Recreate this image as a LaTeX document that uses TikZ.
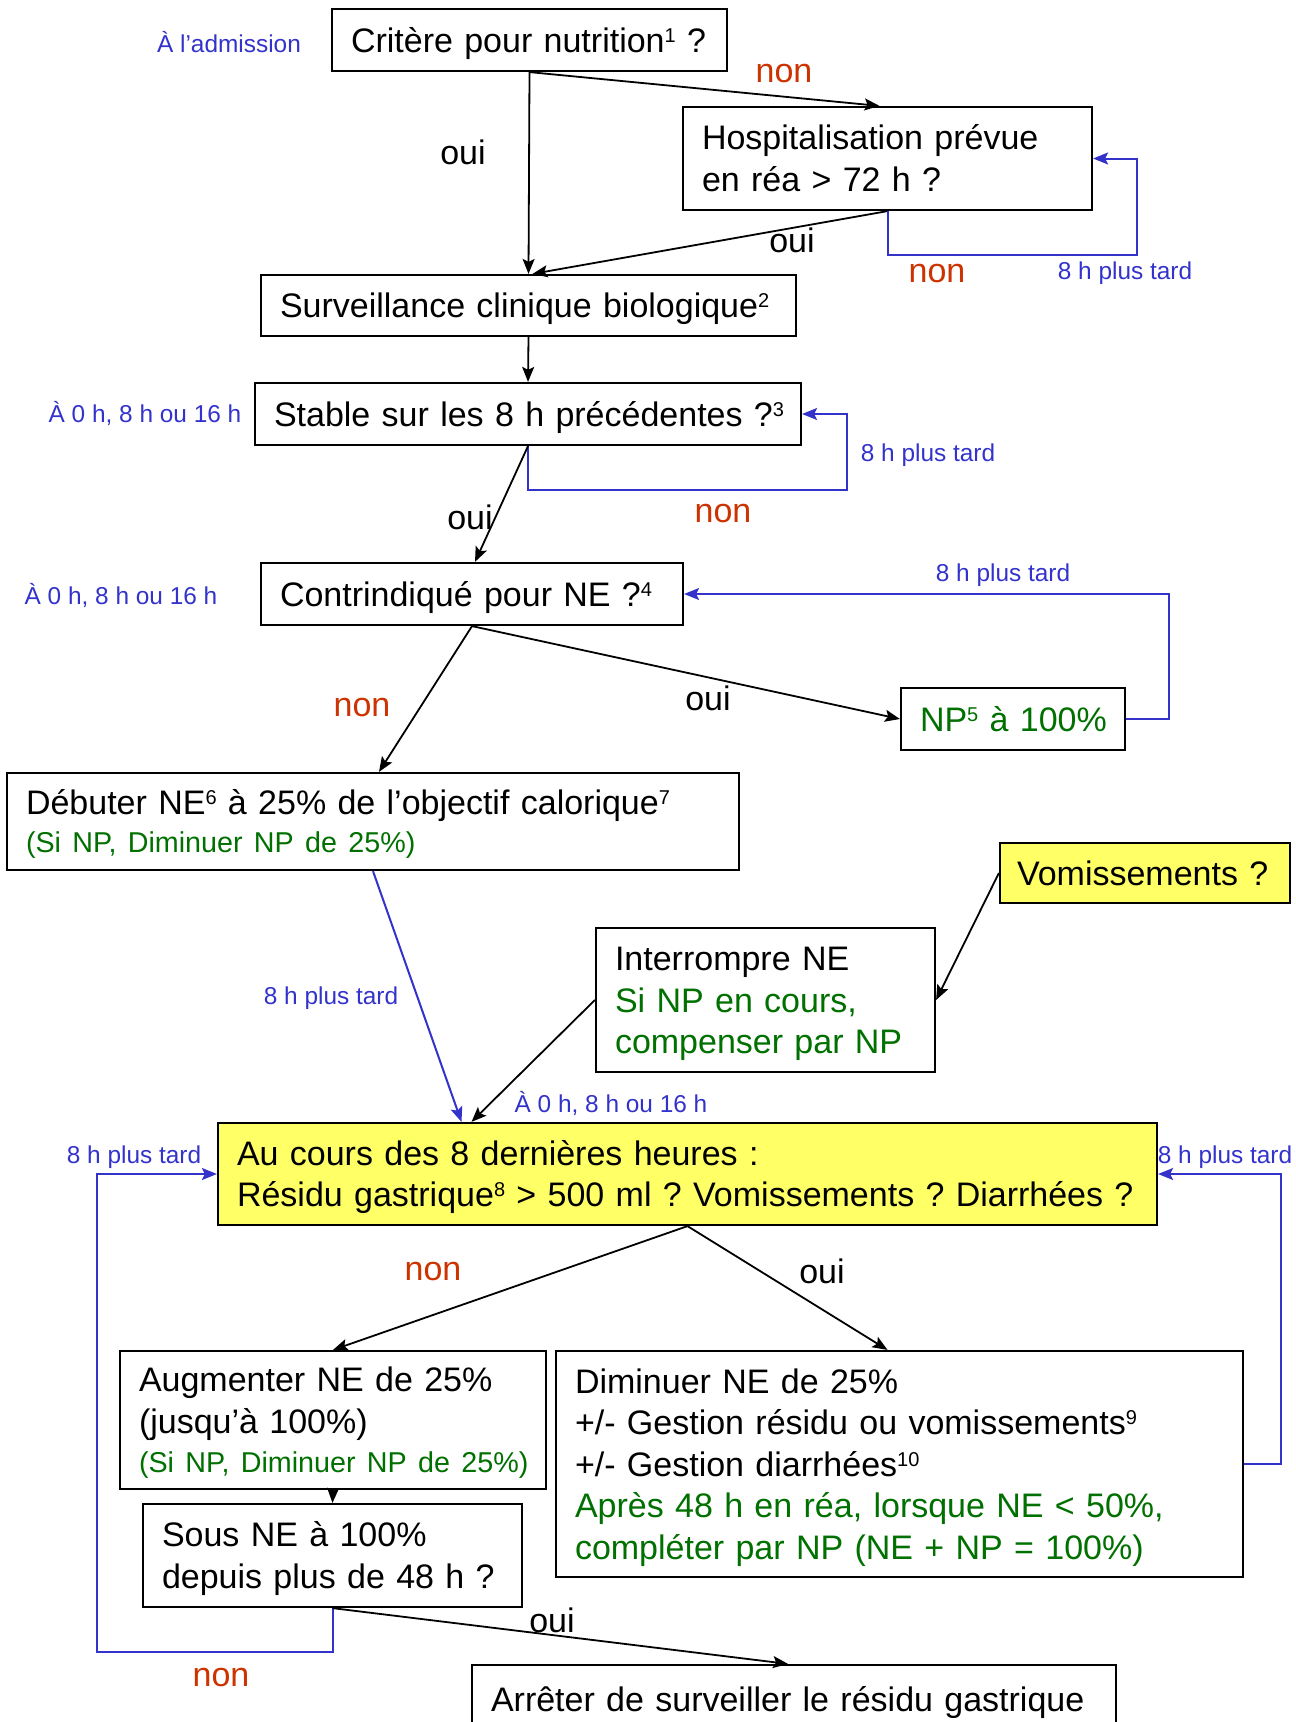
\documentclass[tikz,border=0pt]{standalone}
\usepackage{fontspec}
\setmainfont{Liberation Sans}
\usetikzlibrary{arrows.meta,calc}
\definecolor{cblue}{RGB}{51,51,204}
\definecolor{cred}{RGB}{204,51,0}
\definecolor{cgreen}{RGB}{0,112,0}
\definecolor{cyel}{RGB}{255,255,102}
\newcommand\sus[1]{\raisebox{10pt}{\fontsize{20}{20}\selectfont #1}}
\newcommand\gsmall{\fontsize{28.7}{35}\selectfont}
\newcommand\hs{\rule{0pt}{34pt}}
\newcommand\ds{\rule[-9.6pt]{0pt}{0pt}}
\begin{document}
\frenchspacing
\begin{tikzpicture}[x=1pt,y=-1pt,
  every node/.style={inner sep=0pt},
  bx/.style={draw=black, line width=2.2pt, rectangle, inner xsep=19pt, inner ysep=0pt, align=left, font=\fontsize{34}{41.5}\selectfont, text=black},
  ybx/.style={bx, fill=cyel},
  lbl/.style={font=\fontsize{24.4}{28}\selectfont, text=cblue},
  nonl/.style={font=\fontsize{34}{40}\selectfont, text=cred},
  ouil/.style={font=\fontsize{34}{40}\selectfont, text=black},
  arr/.style={draw=black, line width=1.8pt, -{Stealth[length=15pt,width=12pt,inset=3pt]}},
  barr/.style={draw=cblue, line width=2pt, -{Stealth[length=15pt,width=12pt,inset=3pt]}},
]
\clip (0,0) rectangle (1296,1722);
\fill[white] (0,0) rectangle (1296,1722);

\node[bx, minimum width=395pt, minimum height=62pt, text width=357pt] (crit) at (529.5,40) {\mbox{\hs Critère pour nutrition\sus{1} ?\ds}};
\node[bx, minimum width=409pt, minimum height=103pt, text width=371pt] (hosp) at (887.5,158.5) {\mbox{\hs Hospitalisation prévue}\\\mbox{en réa > 72 h ?\ds}};
\node[bx, minimum width=535pt, minimum height=61pt, text width=497pt] (surv) at (528.5,305.5) {\mbox{\hs Surveillance clinique biologique\sus{2}\ds}};
\node[bx, minimum width=546pt, minimum height=62pt, text width=508pt] (stab) at (528,414) {\mbox{\hs Stable sur les 8 h précédentes ?\sus{3}\ds}};
\node[bx, minimum width=422pt, minimum height=62pt, text width=384pt] (contr) at (472,594) {\mbox{\hs Contrindiqué pour NE ?\sus{4}\ds}};
\node[bx, minimum width=224pt, minimum height=62pt, text width=186pt, text=cgreen] (np) at (1013,719) {\mbox{\hs NP\sus{5} à 100\%\ds}};
\node[bx, minimum width=732pt, minimum height=97pt, text width=694pt] (debut) at (373,821.5) {\mbox{\hs Débuter NE\sus{6} à 25\% de l’objectif calorique\sus{7}}\\[-4pt]\mbox{\gsmall\color{cgreen}(Si NP, Diminuer NP de 25\%)\ds}};
\node[ybx, minimum width=290pt, minimum height=60pt, text width=256pt, inner xsep=17pt] (vom) at (1145,873) {\mbox{\hs Vomissements ?\ds}};
\node[bx, minimum width=339pt, minimum height=144pt, text width=301pt] (interr) at (765.5,1000) {\mbox{\hs Interrompre NE}\\\mbox{\color{cgreen}Si NP en cours,}\\\mbox{\color{cgreen}compenser par NP\ds}};
\node[ybx, minimum width=939pt, minimum height=102pt, text width=901pt] (auc) at (687.5,1174) {\mbox{\hs Au cours des 8 dernières heures :}\\\mbox{Résidu gastrique\sus{8} > 500 ml ? Vomissements ? Diarrhées ?\ds}};
\node[bx, minimum width=426pt, minimum height=138pt, text width=388pt] (augm) at (333,1420) {\mbox{\hs Augmenter NE de 25\%}\\\mbox{(jusqu’à 100\%)}\\[-2pt]\mbox{\gsmall\color{cgreen}(Si NP, Diminuer NP de 25\%)\ds}};
\node[bx, minimum width=687pt, minimum height=226pt, text width=649pt] (dimin) at (899.5,1464) {\mbox{\hs Diminuer NE de 25\%}\\\mbox{+/- Gestion résidu ou vomissements\sus{9}}\\\mbox{+/- Gestion diarrhées\sus{10}}\\\mbox{\color{cgreen}Après 48 h en réa, lorsque NE < 50\%,}\\\mbox{\color{cgreen}compléter par NP (NE + NP = 100\%)\ds}};
\node[bx, minimum width=379pt, minimum height=103pt, text width=341pt] (sous) at (332.5,1555.5) {\mbox{\hs Sous NE à 100\%}\\\mbox{depuis plus de 48 h ?\ds}};
\node[bx, minimum width=644pt, minimum height=68pt, text width=606pt] (arret) at (794,1699) {\mbox{\hs Arrêter de surveiller le résidu gastrique\ds}};

\draw[arr] (crit.south) -- ([xshift=-8pt]hosp.north);
\draw[arr] (crit.south) -- (surv.north);
\draw[arr] (hosp.south) -- ([xshift=4pt]surv.north);
\draw[barr] (hosp.south) -- ++(0,44) -| ([xshift=44pt]hosp.east) -- (hosp.east);
\draw[arr] (surv.south) -- (stab.north);
\draw[barr] (stab.south) -- ++(0,44) -| ([xshift=45pt]stab.east) -- (stab.east);
\draw[arr] (stab.south) -- ([xshift=3pt]contr.north);
\draw[arr] (contr.south) -- ([xshift=6pt]debut.north);
\draw[arr] (contr.south) -- (np.west);
\draw[barr] (np.east) -- ++(43,0) |- (contr.east);
\draw[barr] (debut.south) -- ([xshift=-226pt]auc.north);
\draw[arr] (vom.west) -- (interr.east);
\draw[arr] (interr.west) -- ([xshift=-216pt]auc.north);
\draw[barr] (sous.south) -- ++(0,44) -| ([xshift=-120pt]auc.west) -- (auc.west);
\draw[barr] (dimin.east) -- ++(37,0) |- (auc.east);
\draw[arr] (auc.south) -- (augm.north);
\draw[arr] (auc.south) -- ([xshift=-12pt]dimin.north);
\draw[arr] (augm.south) -- (sous.north);
\draw[arr] (sous.south) -- ([xshift=-6pt]arret.north);

\node[lbl] (l1) at (229,42) {À l’admission};
\node[nonl] (n1) at (784,74) {non};
\node[ouil] (o1) at (463,152) {oui};
\node[ouil] (o2) at (792,240) {oui};
\node[nonl] (n2) at (937,274) {non};
\node[lbl] (l2) at (1125,273) {8 h plus tard};
\node[lbl] (l3) at (145,413) {À 0 h, 8 h ou 16 h};
\node[lbl] (l4) at (928,455) {8 h plus tard};
\node[nonl] (n3) at (723,514) {non};
\node[ouil] (o3) at (470,517) {oui};
\node[lbl] (l5) at (121,595) {À 0 h, 8 h ou 16 h};
\node[lbl] (l6) at (1003,575) {8 h plus tard};
\node[nonl] (n4) at (362,708) {non};
\node[ouil] (o4) at (708,698) {oui};
\node[lbl] (l7) at (331,998) {8 h plus tard};
\node[lbl] (l8) at (611,1103) {À 0 h, 8 h ou 16 h};
\node[lbl] (l9) at (134,1157) {8 h plus tard};
\node[lbl] (l10) at (1225,1157) {8 h plus tard};
\node[nonl] (n5) at (433,1272) {non};
\node[ouil] (o5) at (822,1271) {oui};
\node[ouil] (o6) at (552,1620) {oui};
\node[nonl] (n6) at (221,1677) {non};
\end{tikzpicture}
\end{document}
